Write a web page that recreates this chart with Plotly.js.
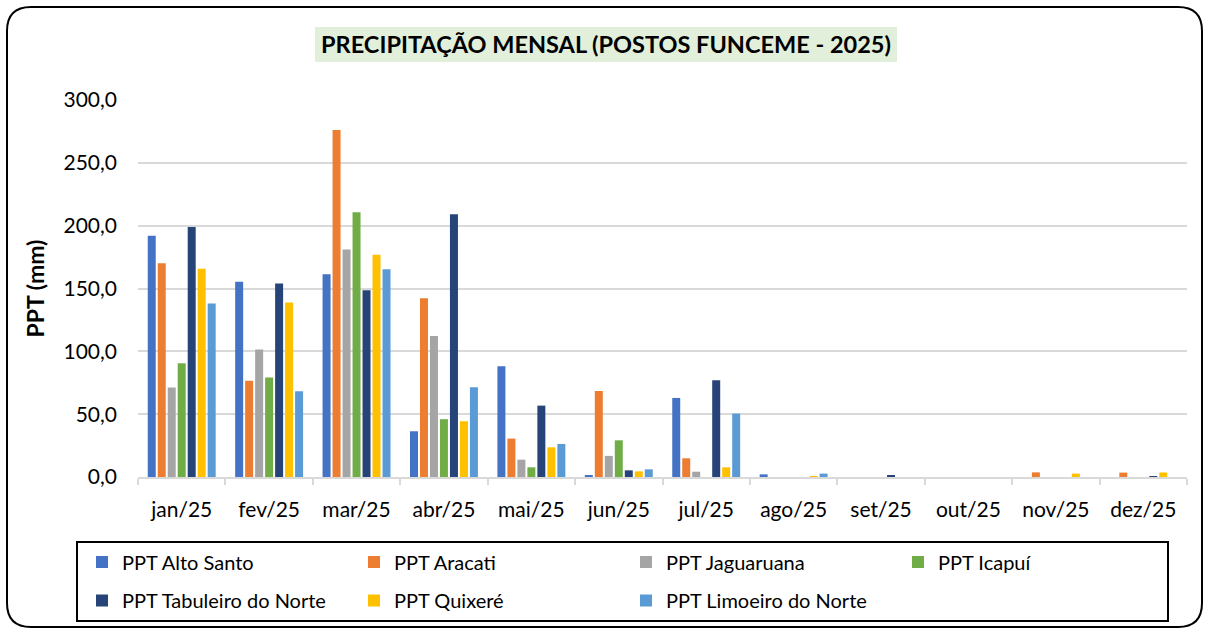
<!DOCTYPE html>
<html>
<head>
<meta charset="utf-8">
<script src="https://cdn.plot.ly/plotly-3.0.1.min.js"></script>
<style>html,body{margin:0;padding:0;background:#fff;}#chart{width:1208px;height:633px;}</style>
</head>
<body>
<div id="chart"></div>
<script>
const months = ['jan/25','fev/25','mar/25','abr/25','mai/25','jun/25','jul/25','ago/25','set/25','out/25','nov/25','dez/25'];
const altoSanto  = [192.0, 155.3, 161.4, 36.4, 88.2, 0.8, 62.9, 2.1, 0, 0, 0, 0];
const aracati    = [170.0, 76.5, 276.1, 142.3, 30.6, 68.5, 14.9, 0, 0, 0, 3.7, 3.5];
const jaguaruana = [71.2, 101.4, 181.1, 112.3, 13.8, 16.8, 4.2, 0, 0, 0, 0, 0];
const icapui     = [90.5, 79.2, 210.6, 46.0, 7.7, 29.2, 0, 0, 0, 0, 0, 0];
const tabuleiro  = [198.9, 154.0, 148.7, 209.0, 56.8, 5.3, 77.0, 0, 1.0, 0, 0, 0.3];
const quixere    = [165.7, 138.9, 176.8, 44.4, 23.6, 4.5, 7.7, 0.3, 0, 0, 2.7, 3.6];
const limoeiro   = [138.1, 68.3, 165.4, 71.4, 26.3, 6.1, 50.5, 2.7, 0, 0, 0, 0];
const seriesNames = ['PPT Alto Santo','PPT Aracati','PPT Jaguaruana','PPT Icapuí','PPT Tabuleiro do Norte','PPT Quixeré','PPT Limoeiro do Norte'];
const seriesColors = ['#4472C4','#ED7D31','#A5A5A5','#70AD47','#264478','#FFC000','#5B9BD5'];
const seriesValues = [altoSanto, aracati, jaguaruana, icapui, tabuleiro, quixere, limoeiro];
const legendOf = ['legend','legend','legend','legend','legend2','legend2','legend2'];

const FONT = 'Lato, "Noto Sans", sans-serif';
const L = 138, R = 21, T = 100, B = 156;
const Wfull = 1208, Hfull = 633;
const W = Wfull - L - R, H = Hfull - T - B;
const px = p => (p - L) / W;
const py = p => (Hfull - B - p) / H;

const traces = seriesNames.map((n, i) => ({
  type: 'bar', name: n, x: months, y: seriesValues[i],
  marker: {color: seriesColors[i]},
  legend: legendOf[i],
  hoverinfo: 'x+y+name'
}));

function roundRect(x0, y0, x1, y1, r) {
  const P = (a, b) => px(a) + ',' + py(b);
  return 'M' + P(x0 + r, y0) + ' L' + P(x1 - r, y0) + ' Q' + P(x1, y0) + ' ' + P(x1, y0 + r) +
    ' L' + P(x1, y1 - r) + ' Q' + P(x1, y1) + ' ' + P(x1 - r, y1) +
    ' L' + P(x0 + r, y1) + ' Q' + P(x0, y1) + ' ' + P(x0, y1 - r) +
    ' L' + P(x0, y0 + r) + ' Q' + P(x0, y0) + ' ' + P(x0 + r, y0) + ' Z';
}

const legendBase = {
  orientation: 'h', x: px(82), xanchor: 'left', yanchor: 'middle',
  entrywidth: 227, entrywidthmode: 'pixels', borderwidth: 0, bgcolor: 'rgba(0,0,0,0)',
  font: {family: FONT, size: 20, color: '#000'}, traceorder: 'normal'
};

const layout = {
  width: Wfull, height: Hfull,
  margin: {l: L, r: R, t: T, b: B},
  paper_bgcolor: '#ffffff', plot_bgcolor: '#ffffff',
  separators: ',.',
  font: {family: FONT, color: '#000', size: 20},
  barmode: 'group', bargap: 0.2, bargroupgap: 0.2,
  title: {
    text: '<b>PRECIPITAÇÃO MENSAL (POSTOS FUNCEME - 2025)</b>',
    font: {family: FONT, size: 23.5, color: '#000'},
    xref: 'paper', x: px(606), xanchor: 'center',
    yref: 'container', y: 1 - 45 / Hfull, yanchor: 'middle'
  },
  xaxis: {
    type: 'category', showgrid: false, zeroline: false,
    showline: true, linecolor: '#d9d9d9', linewidth: 1.5,
    ticks: 'outside', tickson: 'boundaries', ticklen: 6, tickcolor: '#d9d9d9', tickwidth: 1.5,
    tickfont: {family: FONT, size: 21, color: '#000'},
    ticklabelstandoff: 13
  },
  yaxis: {
    range: [0, 300], dtick: 50, tickformat: '.1f',
    showgrid: true, gridcolor: '#d9d9d9', gridwidth: 1.5,
    zeroline: false, showline: false, ticks: '',
    tickfont: {family: FONT, size: 21, color: '#000'},
    ticklabelstandoff: 20,
    title: {text: '<b>PPT (mm)</b>', font: {family: FONT, size: 23, color: '#000'}, standoff: 12}
  },
  legend: Object.assign({}, legendBase, {y: py(562)}),
  legend2: Object.assign({}, legendBase, {y: py(600.5)}),
  shapes: [
    {type: 'path', xref: 'paper', yref: 'paper', path: roundRect(7, 7, 1202, 627, 24),
     line: {color: '#000', width: 2}, fillcolor: 'rgba(0,0,0,0)', layer: 'below'},
    {type: 'rect', xref: 'paper', yref: 'paper', x0: px(315), x1: px(897), y0: py(62), y1: py(27),
     line: {width: 0}, fillcolor: '#E2EFDA', layer: 'below'},
    {type: 'rect', xref: 'paper', yref: 'paper', x0: px(77), x1: px(1168), y0: py(621), y1: py(542),
     line: {color: '#000', width: 2}, fillcolor: 'rgba(0,0,0,0)', layer: 'below'}
  ]
};

Plotly.newPlot('chart', traces, layout, {displayModeBar: false, responsive: false});
</script>
</body>
</html>
